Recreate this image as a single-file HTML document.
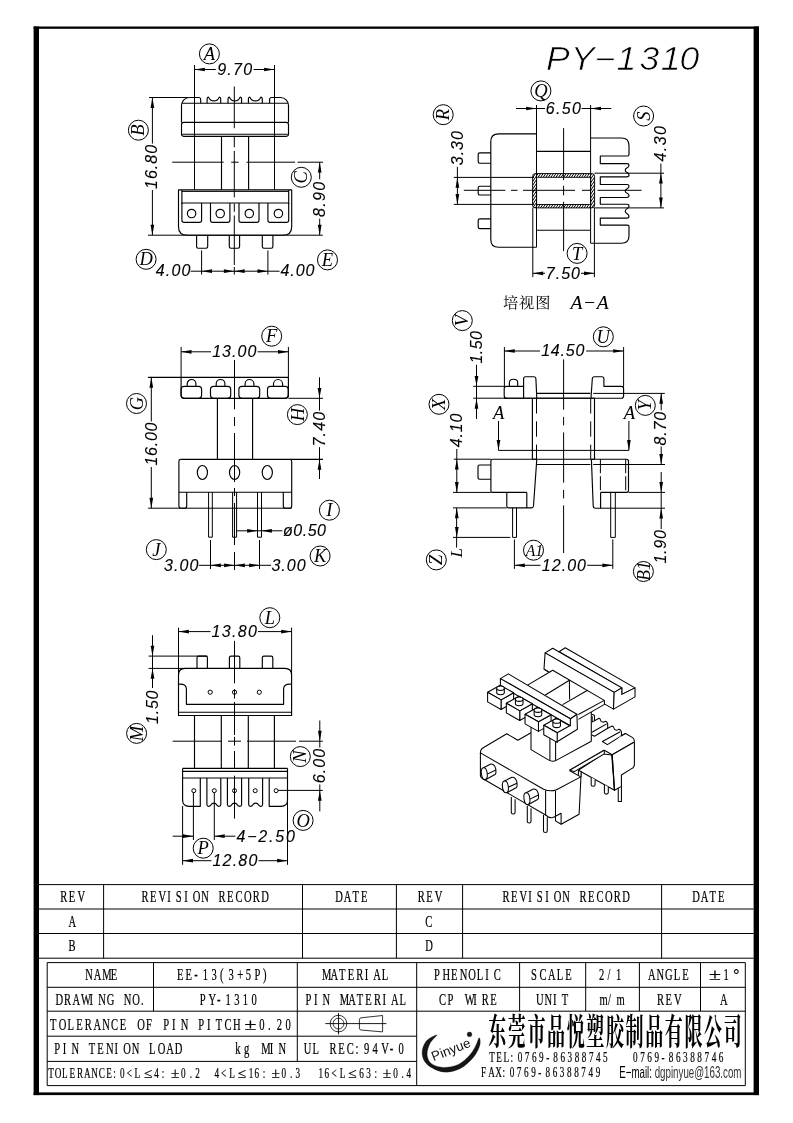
<!DOCTYPE html>
<html lang="zh"><head><meta charset="utf-8"><title>PY-1310</title>
<style>
html,body{margin:0;padding:0;background:#fff;}
body{width:793px;height:1123px;overflow:hidden;}
svg{display:block;will-change:transform;}
text{stroke:none;fill:#000;}
.dim{font-family:"Liberation Sans",sans-serif;font-style:italic;stroke:#000;stroke-width:0.12px;}
.ttl{font-family:"Liberation Sans",sans-serif;font-style:italic;stroke:#fff;stroke-width:0.7px;paint-order:fill stroke;}
.lab{font-family:"Liberation Serif",serif;font-style:italic;}
.tbl{font-family:"Liberation Serif","Noto Serif CJK SC",serif;stroke:#000;stroke-width:0.22px;}
.cn{font-family:"Liberation Serif","Noto Serif CJK SC",serif;font-weight:700;}
.kai{font-family:"Liberation Serif","Noto Serif CJK SC",serif;}
.em{font-family:"Liberation Sans",sans-serif;fill:#333;}
.logo{font-family:"Liberation Sans",sans-serif;fill:#111;}
</style></head><body>
<svg width="793" height="1123" viewBox="0 0 793 1123">
<rect x="0" y="0" width="793" height="1123" fill="#fff" stroke="none"/>
<g stroke="#000" fill="none" stroke-linecap="butt" stroke-linejoin="round">
<rect x="33.6" y="26.5" width="5.4" height="1068.6" fill="#000" stroke="none"/>
<rect x="753.6" y="26.5" width="5.4" height="1068.6" fill="#000" stroke="none"/>
<rect x="33.6" y="26.5" width="725.4" height="2.3" fill="#000" stroke="none"/>
<rect x="33.6" y="1092.4" width="725.4" height="2.7" fill="#000" stroke="none"/>
<text class="ttl" font-size="32.4" transform="translate(0 69.9) scale(1.1 1)" x="496.36 518.91 540.55 560.55 581.27 600.73 617.82" y="0">PY−1310</text>
<line x1="39" y1="884.6" x2="753.6" y2="884.6" stroke-width="1"/>
<line x1="39" y1="909" x2="753.6" y2="909" stroke-width="1"/>
<line x1="39" y1="933.5" x2="753.6" y2="933.5" stroke-width="1"/>
<line x1="39" y1="958.2" x2="753.6" y2="958.2" stroke-width="1"/>
<line x1="103.6" y1="884.6" x2="103.6" y2="958.2" stroke-width="1"/>
<line x1="302.5" y1="884.6" x2="302.5" y2="958.2" stroke-width="1"/>
<line x1="396.4" y1="884.6" x2="396.4" y2="958.2" stroke-width="1"/>
<line x1="462.6" y1="884.6" x2="462.6" y2="958.2" stroke-width="1"/>
<line x1="661.6" y1="884.6" x2="661.6" y2="958.2" stroke-width="1"/>
<line x1="47.2" y1="962.6" x2="745.3" y2="962.6" stroke-width="1"/>
<line x1="47.2" y1="1085.6" x2="745.3" y2="1085.6" stroke-width="1"/>
<line x1="47.2" y1="962.6" x2="47.2" y2="1085.6" stroke-width="1"/>
<line x1="745.3" y1="962.6" x2="745.3" y2="1085.6" stroke-width="1"/>
<line x1="47.2" y1="987.3" x2="745.3" y2="987.3" stroke-width="1"/>
<line x1="47.2" y1="1011.2" x2="745.3" y2="1011.2" stroke-width="1"/>
<line x1="47.2" y1="1036.2" x2="416.7" y2="1036.2" stroke-width="1"/>
<line x1="47.2" y1="1061.4" x2="416.7" y2="1061.4" stroke-width="1"/>
<line x1="153.5" y1="962.6" x2="153.5" y2="1011.2" stroke-width="1"/>
<line x1="297.3" y1="962.6" x2="297.3" y2="1061.4" stroke-width="1"/>
<line x1="416.7" y1="962.6" x2="416.7" y2="1085.6" stroke-width="1"/>
<line x1="519.6" y1="962.6" x2="519.6" y2="1011.2" stroke-width="1"/>
<line x1="585.7" y1="962.6" x2="585.7" y2="1011.2" stroke-width="1"/>
<line x1="639.4" y1="962.6" x2="639.4" y2="1011.2" stroke-width="1"/>
<line x1="700.5" y1="962.6" x2="700.5" y2="1011.2" stroke-width="1"/>
<text class="tbl" font-size="16" transform="translate(60.3 902.2) scale(0.66 1)" x="0 12.95 25.91" y="0">REV</text>
<text class="tbl" font-size="16" transform="translate(141.5 902.2) scale(0.66 1)" x="0 12.95 25.91 38.86 51.82 64.77 77.73 90.68 103.64 116.59 129.55 142.5 155.45 168.41 181.36" y="0">REVISION RECORD</text>
<text class="tbl" font-size="16" transform="translate(335.3 902.2) scale(0.66 1)" x="0 12.95 25.91 38.86" y="0">DATE</text>
<text class="tbl" font-size="16" transform="translate(417.7 902.2) scale(0.66 1)" x="0 12.95 25.91" y="0">REV</text>
<text class="tbl" font-size="16" transform="translate(502.5 901.6) scale(0.66 1)" x="0 12.95 25.91 38.86 51.82 64.77 77.73 90.68 103.64 116.59 129.55 142.5 155.45 168.41 181.36" y="0">REVISION RECORD</text>
<text class="tbl" font-size="16" transform="translate(692.3 902.2) scale(0.66 1)" x="0 12.95 25.91 38.86" y="0">DATE</text>
<text class="tbl" font-size="16" transform="translate(68.5 926.6) scale(0.66 1)" x="0" y="0">A</text>
<text class="tbl" font-size="16" transform="translate(68.5 951.3) scale(0.66 1)" x="0" y="0">B</text>
<text class="tbl" font-size="16" transform="translate(425.3 926.6) scale(0.66 1)" x="0" y="0">C</text>
<text class="tbl" font-size="16" transform="translate(425.3 951.3) scale(0.66 1)" x="0" y="0">D</text>
<text class="tbl" font-size="16" transform="translate(85.2 980.3) scale(0.66 1)" x="0 12.95 25.91 38.86" y="0">NAME</text>
<text class="tbl" font-size="16" transform="translate(177 980.3) scale(0.66 1)" x="0 13.03 26.06 39.09 52.12 65.15 78.18 91.21 104.24 117.27 130.3" y="0">EE-13(3+5P)</text>
<text class="tbl" font-size="16" transform="translate(55.4 1004.8) scale(0.66 1)" x="0 12.95 25.91 38.86 51.82 64.77 77.73 90.68 103.64 116.59 129.55" y="0">DRAWING NO.</text>
<text class="tbl" font-size="16" transform="translate(199.8 1004.8) scale(0.66 1)" x="0 13.03 26.06 39.09 52.12 65.15 78.18" y="0">PY-1310</text>
<text class="tbl" font-size="16" transform="translate(322 980.3) scale(0.66 1)" x="0 12.95 25.91 38.86 51.82 64.77 77.73 90.68" y="0">MATERIAL</text>
<text class="tbl" font-size="16" transform="translate(305.5 1004.8) scale(0.66 1)" x="0 12.95 25.91 38.86 51.82 64.77 77.73 90.68 103.64 116.59 129.55 142.5" y="0">PIN MATERIAL</text>
<text class="tbl" font-size="16" transform="translate(434 980.3) scale(0.66 1)" x="0 12.95 25.91 38.86 51.82 64.77 77.73 90.68" y="0">PHENOLIC</text>
<text class="tbl" font-size="16" transform="translate(439 1004.8) scale(0.66 1)" x="0 12.95 25.91 38.86 51.82 64.77 77.73" y="0">CP WIRE</text>
<text class="tbl" font-size="16" transform="translate(531 980.3) scale(0.66 1)" x="0 12.95 25.91 38.86 51.82" y="0">SCALE</text>
<text class="tbl" font-size="16" transform="translate(536 1004.8) scale(0.66 1)" x="0 12.95 25.91 38.86" y="0">UNIT</text>
<text class="tbl" font-size="16" transform="translate(599 980.3) scale(0.66 1)" x="0 12.95 25.91" y="0">2/1</text>
<text class="tbl" font-size="16" transform="translate(599.5 1004.8) scale(0.66 1)" x="0 12.95 25.91" y="0">m/m</text>
<text class="tbl" font-size="16" transform="translate(648 980.3) scale(0.66 1)" x="0 12.95 25.91 38.86 51.82" y="0">ANGLE</text>
<text class="tbl" font-size="16" transform="translate(657 1004.8) scale(0.66 1)" x="0 12.95 25.91" y="0">REV</text>
<text class="tbl" font-size="16" transform="translate(708.88 980.3) scale(1.36 1)" x="0" y="0">±</text>
<text class="tbl" font-size="16" transform="translate(723.4 980.3) scale(0.66 1)" x="0" y="0">1</text>
<text class="tbl" font-size="16" transform="translate(733.18 980.3) scale(0.95 1)" x="0" y="0">°</text>
<text class="tbl" font-size="16" transform="translate(720 1004.8) scale(0.66 1)" x="0" y="0">A</text>
<text class="tbl" font-size="16" transform="translate(50 1029.9) scale(0.66 1)" x="0 13.21 26.42 39.64 52.85 66.06 79.27 92.48 105.7 118.91 132.12 145.33 158.55 171.76 184.97 198.18 211.39 224.61 237.82 251.03 264.24 277.45" y="0">TOLERANCE OF PIN PITCH</text>
<text class="tbl" font-size="16" transform="translate(244.59 1029.9) scale(1.36 1)" x="0" y="0">±</text>
<text class="tbl" font-size="16" transform="translate(259.28 1029.9) scale(0.66 1)" x="0 13.21 26.42 39.64" y="0">0.20</text>
<text class="tbl" font-size="16" transform="translate(54.2 1053.9) scale(0.66 1)" x="0 13.06 26.12 39.18 52.24 65.3 78.36 91.42 104.48 117.55 130.61 143.67 156.73 169.79 182.85" y="0">PIN TENION LOAD</text>
<text class="tbl" font-size="16" transform="translate(235.3 1053.9) scale(0.66 1)" x="0 13.06 26.12 39.18 52.24 65.3" y="0">kg MIN</text>
<text class="tbl" font-size="16" transform="translate(303.8 1053.9) scale(0.66 1)" x="0 13.03 26.06 39.09 52.12 65.15 78.18 91.21 104.24 117.27 130.3 143.33" y="0">UL REC:94V-0</text>
<text class="tbl" font-size="13.9" transform="translate(48.3 1077.9) scale(0.66 1)" x="0 9.85 20.76 32.27 43.64 54.09 65 76.36 87.88 98.48 108.64 118.79 130.76" y="0">TOLERANCE:0&lt;L</text>
<text class="tbl" font-size="13.9" transform="translate(144.1 1077.9) scale(1.1 1)" x="0" y="0">≤</text>
<text class="tbl" font-size="13.9" transform="translate(154.3 1077.9) scale(0.66 1)" x="0 11.21" y="0">4:</text>
<text class="tbl" font-size="13.9" transform="translate(170.9 1077.9) scale(1.1 1)" x="0" y="0">±</text>
<text class="tbl" font-size="13.9" transform="translate(181 1077.9) scale(0.66 1)" x="0 13.33 21.67" y="0">0.2</text>
<text class="tbl" font-size="13.9" transform="translate(214.4 1077.9) scale(0.66 1)" x="0 9.85 22.42" y="0">4&lt;L</text>
<text class="tbl" font-size="13.9" transform="translate(237.7 1077.9) scale(1.1 1)" x="0" y="0">≤</text>
<text class="tbl" font-size="13.9" transform="translate(248.8 1077.9) scale(0.66 1)" x="0 8.64 21.06" y="0">16:</text>
<text class="tbl" font-size="13.9" transform="translate(271.6 1077.9) scale(1.1 1)" x="0" y="0">±</text>
<text class="tbl" font-size="13.9" transform="translate(281.6 1077.9) scale(0.66 1)" x="0 12.73 21.21" y="0">0.3</text>
<text class="tbl" font-size="13.9" transform="translate(318.6 1077.9) scale(0.66 1)" x="0 8.79 19.55 32.12" y="0">16&lt;L</text>
<text class="tbl" font-size="13.9" transform="translate(348.3 1077.9) scale(1.1 1)" x="0" y="0">≤</text>
<text class="tbl" font-size="13.9" transform="translate(359.2 1077.9) scale(0.66 1)" x="0 10.76 23.18" y="0">63:</text>
<text class="tbl" font-size="13.9" transform="translate(382.7 1077.9) scale(1.1 1)" x="0" y="0">±</text>
<text class="tbl" font-size="13.9" transform="translate(393.3 1077.9) scale(0.66 1)" x="0 12.42 20" y="0">0.4</text>
<circle cx="338.5" cy="1023.6" r="8.3" stroke-width="0.8" fill="none"/>
<circle cx="338.5" cy="1023.6" r="5.4" stroke-width="0.8" fill="none"/>
<line x1="325.3" y1="1023.6" x2="386.4" y2="1023.6" stroke-width="0.9"/>
<line x1="338.5" y1="1013" x2="338.5" y2="1034.4" stroke-width="0.9"/>
<path d="M382.6,1015.5 L361,1017.8 Q359.4,1018 359.4,1019.6 L359.4,1028.2 Q359.4,1029.8 361,1030 L382.6,1031.9 Z" stroke-width="0.8" fill="none" />
<text class="cn" font-size="30" transform="translate(488.2 1044.6) scale(0.6 1.22)" x="0 32.7 65.4 98.1 130.8 163.5 196.2 228.9 261.6 294.3 327 359.7 392.4" y="0">东莞市品悦塑胶制品有限公司</text>
<text class="tbl" font-size="13.9" transform="translate(489.2 1061.5) scale(0.66 1)" x="0 10.79 21.58 32.36 43.15 53.94 64.73 75.52 86.3 97.09 107.88 118.67 129.45 140.24 151.03 161.82 172.61" y="0">TEL:0769-86388745</text>
<text class="tbl" font-size="13.9" transform="translate(633 1061.5) scale(0.66 1)" x="0 10.83 21.67 32.5 43.33 54.17 65 75.83 86.67 97.5 108.33 119.17 130" y="0">0769-86388746</text>
<text class="tbl" font-size="13.9" transform="translate(481 1077.4) scale(0.66 1)" x="0 10.86 21.73 32.59 43.45 54.32 65.18 76.05 86.91 97.77 108.64 119.5 130.36 141.23 152.09 162.95 173.82" y="0">FAX:0769-86388749</text>
<text class="em" x="619.2" y="1077.9" font-size="16.6" textLength="122.3" lengthAdjust="spacingAndGlyphs"><tspan fill="#000">E−mail:</tspan> dgpinyue@163.com</text>
<path d="M436.9,1034.9 C436.23,1034.57 428.57,1038.13 426.1,1041.2 C423.63,1044.27 421.93,1049.43 422.1,1053.3 C422.27,1057.17 423.58,1061.28 427.1,1064.4 C430.62,1067.52 437.65,1071.33 443.2,1072 C448.75,1072.67 455.35,1070.85 460.4,1068.4 C465.45,1065.95 470.27,1061.17 473.5,1057.3 C476.73,1053.43 478.85,1048.45 479.8,1045.2 C480.75,1041.95 479.92,1037.63 479.2,1037.8 C478.48,1037.97 477.12,1043.28 475.5,1046.2 C473.88,1049.12 472.35,1052.27 469.5,1055.3 C466.65,1058.33 462.78,1062.38 458.4,1064.4 C454.02,1066.42 447.75,1067.57 443.2,1067.4 C438.65,1067.23 433.78,1065.58 431.1,1063.4 C428.42,1061.22 427.27,1057.67 427.1,1054.3 C426.93,1050.93 428.47,1046.43 430.1,1043.2 C431.73,1039.97 437.57,1035.23 436.9,1034.9 Z" stroke-width="0.3" fill="#151515" />
<circle cx="469.5" cy="1034.4" r="2.4" stroke-width="0.3" fill="#151515"/>
<text class="logo" x="0" y="0" font-size="13.4" transform="translate(433.6 1061.3) rotate(-21.5)">Pinyue</text>
<line x1="194.5" y1="65" x2="194.5" y2="190" stroke-width="1"/>
<line x1="274.5" y1="65" x2="274.5" y2="190" stroke-width="1"/>
<line x1="194.5" y1="69.5" x2="215.8" y2="69.5" stroke-width="1"/>
<line x1="253.6" y1="69.5" x2="274.5" y2="69.5" stroke-width="1"/>
<polygon points="194.5,69.5 204.9,67.65 204.9,71.35" fill="#000" stroke="none"/>
<polygon points="274.5,69.5 264.1,67.65 264.1,71.35" fill="#000" stroke="none"/>
<text class="dim" x="0" y="0" font-size="16" text-anchor="start" textLength="35" lengthAdjust="spacing" transform="translate(217.2 74.7) scale(1 1)">9.70</text>
<circle cx="209.4" cy="53.9" r="10" stroke-width="1" fill="none"/>
<text class="lab" x="209.4" y="60" font-size="18.5" text-anchor="middle" transform="rotate(0 209.4 53.9)">A</text>
<line x1="234.3" y1="86.5" x2="234.3" y2="128.2" stroke-width="1"/>
<line x1="234.3" y1="137" x2="234.3" y2="147.3" stroke-width="1"/>
<line x1="234.3" y1="151" x2="234.3" y2="197.4" stroke-width="1"/>
<line x1="234.3" y1="203.4" x2="234.3" y2="211.8" stroke-width="1"/>
<line x1="234.3" y1="215.5" x2="234.3" y2="265" stroke-width="1"/>
<line x1="234.3" y1="267" x2="234.3" y2="274.6" stroke-width="1"/>
<path d="M181.5,122.4 L181.5,105.5 A8,8 0 0 1 189.5,97.5 L198.7,97.5 Q200.7,97.5 200.7,99.5 L200.7,103.2" stroke-width="1.15" fill="none" />
<path d="M269.6,103.2 L269.6,99.5 Q269.6,97.5 271.6,97.5 L280.5,97.5 A8,8 0 0 1 288.5,105.5 L288.5,122.4" stroke-width="1.15" fill="none" />
<line x1="181.8" y1="103.2" x2="288.2" y2="103.2" stroke-width="1.15"/>
<path d="M207.1,103.2 L207.1,98.8 Q207.3,97.1 208.6,97.1 C210.3,102.2 217.5,102.2 219.2,97.1 Q220.5,97.1 220.7,98.8 L220.7,103.2" stroke-width="1.15" fill="none" />
<path d="M228,103.2 L228,98.8 Q228.2,97.1 229.5,97.1 C231.2,102.2 238.4,102.2 240.1,97.1 Q241.4,97.1 241.6,98.8 L241.6,103.2" stroke-width="1.15" fill="none" />
<path d="M248.4,103.2 L248.4,98.8 Q248.6,97.1 249.9,97.1 C251.6,102.2 259.1,102.2 260.8,97.1 Q262.1,97.1 262.3,98.8 L262.3,103.2" stroke-width="1.15" fill="none" />
<rect x="181.5" y="122.4" width="107" height="13.9" rx="2.2" stroke-width="1.15" fill="none"/>
<line x1="182.3" y1="134.2" x2="287.7" y2="134.2" stroke-width="1.15"/>
<line x1="221.5" y1="136.3" x2="221.5" y2="190" stroke-width="1.15"/>
<line x1="248.6" y1="136.3" x2="248.6" y2="190" stroke-width="1.15"/>
<line x1="172.2" y1="162.2" x2="223.7" y2="162.2" stroke-width="1"/>
<line x1="231.2" y1="162.2" x2="238.6" y2="162.2" stroke-width="1"/>
<line x1="246.5" y1="162.2" x2="295" y2="162.2" stroke-width="1"/>
<line x1="297.5" y1="162.2" x2="323" y2="162.2" stroke-width="1"/>
<path d="M178.5,189.9 L291.7,189.9 L291.7,226.4 Q291.7,235.2 282.9,235.2 L187.3,235.2 Q178.5,235.2 178.5,226.4 Z" stroke-width="1.15" fill="none" />
<line x1="181.9" y1="203" x2="288.7" y2="203" stroke-width="1.15"/>
<line x1="181.9" y1="191.4" x2="288.7" y2="191.4" stroke-width="1"/>
<line x1="181.9" y1="189.9" x2="181.9" y2="204" stroke-width="1.15"/>
<line x1="288.7" y1="189.9" x2="288.7" y2="204" stroke-width="1.15"/>
<path d="M181.9,203 L181.9,220.2 Q181.9,222.4 184.1,222.4 L199.4,222.4 Q201.6,222.4 201.6,220.2 L201.6,203" stroke-width="1.15" fill="none" />
<path d="M210.5,203 L210.5,220.2 Q210.5,222.4 212.7,222.4 L227.7,222.4 Q229.9,222.4 229.9,220.2 L229.9,203" stroke-width="1.15" fill="none" />
<path d="M239,203 L239,220.2 Q239,222.4 241.2,222.4 L256.8,222.4 Q259,222.4 259,220.2 L259,203" stroke-width="1.15" fill="none" />
<path d="M267.9,203 L267.9,220.2 Q267.9,222.4 270.1,222.4 L286.5,222.4 Q288.7,222.4 288.7,220.2 L288.7,203" stroke-width="1.15" fill="none" />
<circle cx="191.6" cy="213.5" r="4.2" stroke-width="1.15" fill="none"/>
<circle cx="220.2" cy="213.5" r="4.2" stroke-width="1.15" fill="none"/>
<circle cx="249.3" cy="213.5" r="4.2" stroke-width="1.15" fill="none"/>
<circle cx="278.4" cy="213.5" r="4.2" stroke-width="1.15" fill="none"/>
<path d="M196.6,235.2 L196.6,246.6 Q196.6,248.2 198.2,248.2 L206.1,248.2 Q207.7,248.2 207.7,246.6 L207.7,235.2" stroke-width="1.15" fill="none" />
<path d="M229.3,235.2 L229.3,246.6 Q229.3,248.2 230.9,248.2 L238,248.2 Q239.6,248.2 239.6,246.6 L239.6,235.2" stroke-width="1.15" fill="none" />
<path d="M262.3,235.2 L262.3,246.6 Q262.3,248.2 263.9,248.2 L271.3,248.2 Q272.9,248.2 272.9,246.6 L272.9,235.2" stroke-width="1.15" fill="none" />
<line x1="149" y1="97.5" x2="188" y2="97.5" stroke-width="1"/>
<line x1="148" y1="235.2" x2="322.8" y2="235.2" stroke-width="1"/>
<line x1="152.4" y1="97.5" x2="152.4" y2="143.6" stroke-width="1"/>
<line x1="152.4" y1="190" x2="152.4" y2="235.2" stroke-width="1"/>
<polygon points="152.4,97.5 150.55,107.9 154.25,107.9" fill="#000" stroke="none"/>
<polygon points="152.4,235.2 150.55,224.8 154.25,224.8" fill="#000" stroke="none"/>
<text class="dim" x="0" y="0" font-size="16" text-anchor="start" textLength="44" lengthAdjust="spacing" transform="translate(157.4 188.9) rotate(-90) scale(1 1)">16.80</text>
<circle cx="138.4" cy="130.2" r="10" stroke-width="1" fill="none"/>
<text class="lab" x="138.4" y="136.3" font-size="18.5" text-anchor="middle" transform="rotate(-90 138.4 130.2)">B</text>
<line x1="319.7" y1="162.2" x2="319.7" y2="179.3" stroke-width="1"/>
<line x1="319.7" y1="218.6" x2="319.7" y2="235.2" stroke-width="1"/>
<polygon points="319.7,162.2 317.85,172.6 321.55,172.6" fill="#000" stroke="none"/>
<polygon points="319.7,235.2 317.85,224.8 321.55,224.8" fill="#000" stroke="none"/>
<text class="dim" x="0" y="0" font-size="16" text-anchor="start" textLength="35" lengthAdjust="spacing" transform="translate(324.9 216.9) rotate(-90) scale(1 1)">8.90</text>
<circle cx="301.3" cy="177.3" r="10" stroke-width="1" fill="none"/>
<text class="lab" x="301.3" y="183.41" font-size="18.5" text-anchor="middle" transform="rotate(-90 301.3 177.3)">C</text>
<line x1="201.6" y1="250.4" x2="201.6" y2="274.6" stroke-width="1"/>
<line x1="267.9" y1="250.4" x2="267.9" y2="274.6" stroke-width="1"/>
<line x1="190.6" y1="271.2" x2="279.6" y2="271.2" stroke-width="1"/>
<polygon points="201.6,271.2 212,269.35 212,273.05" fill="#000" stroke="none"/>
<polygon points="234.3,271.2 223.9,269.35 223.9,273.05" fill="#000" stroke="none"/>
<polygon points="234.3,271.2 244.7,269.35 244.7,273.05" fill="#000" stroke="none"/>
<polygon points="267.9,271.2 257.5,269.35 257.5,273.05" fill="#000" stroke="none"/>
<text class="dim" x="0" y="0" font-size="16" text-anchor="start" textLength="34.5" lengthAdjust="spacing" transform="translate(155.8 276.4) scale(1 1)">4.00</text>
<text class="dim" x="0" y="0" font-size="16" text-anchor="start" textLength="34" lengthAdjust="spacing" transform="translate(280.4 276.4) scale(1 1)">4.00</text>
<circle cx="146.1" cy="259.3" r="10" stroke-width="1" fill="none"/>
<text class="lab" x="146.1" y="265.41" font-size="18.5" text-anchor="middle" transform="rotate(0 146.1 259.3)">D</text>
<circle cx="327.5" cy="259.9" r="10" stroke-width="1" fill="none"/>
<text class="lab" x="327.5" y="266" font-size="18.5" text-anchor="middle" transform="rotate(0 327.5 259.9)">E</text>
<line x1="536.5" y1="105" x2="536.5" y2="247.2" stroke-width="1"/>
<line x1="590.6" y1="105" x2="590.6" y2="243.2" stroke-width="1"/>
<line x1="516" y1="108.5" x2="536.5" y2="108.5" stroke-width="1"/>
<line x1="536.5" y1="108.5" x2="545" y2="108.5" stroke-width="1"/>
<line x1="581.6" y1="108.5" x2="590.6" y2="108.5" stroke-width="1"/>
<line x1="590.6" y1="108.5" x2="611.3" y2="108.5" stroke-width="1"/>
<polygon points="536.5,108.5 526.1,106.65 526.1,110.35" fill="#000" stroke="none"/>
<polygon points="590.6,108.5 601,106.65 601,110.35" fill="#000" stroke="none"/>
<text class="dim" x="0" y="0" font-size="16" text-anchor="start" textLength="35" lengthAdjust="spacing" transform="translate(545.8 113.8) scale(1 1)">6.50</text>
<circle cx="540.9" cy="90.9" r="10" stroke-width="1" fill="none"/>
<text class="lab" x="540.9" y="97.01" font-size="18.5" text-anchor="middle" transform="rotate(0 540.9 90.9)">Q</text>
<path d="M536.5,133.8 L498.6,133.8 Q490.8,133.8 490.8,141.6 L490.8,239.4 Q490.8,247.2 498.6,247.2 L536.5,247.2" stroke-width="1.15" fill="none" />
<path d="M490.8,152.8 L479.8,152.8 Q478.2,152.8 478.2,154.4 L478.2,161.6 Q478.2,163.2 479.8,163.2 L490.8,163.2" stroke-width="1.15" fill="none" />
<path d="M490.8,186.2 L479.8,186.2 Q478.2,186.2 478.2,187.8 L478.2,193.4 Q478.2,195 479.8,195 L490.8,195" stroke-width="1.15" fill="none" />
<path d="M490.8,218.9 L479.8,218.9 Q478.2,218.9 478.2,220.5 L478.2,227 Q478.2,228.6 479.8,228.6 L490.8,228.6" stroke-width="1.15" fill="none" />
<line x1="536.5" y1="151.3" x2="590.6" y2="151.3" stroke-width="1.15"/>
<line x1="536.5" y1="230.2" x2="590.6" y2="230.2" stroke-width="1.15"/>
<line x1="532.8" y1="207.5" x2="532.8" y2="277.2" stroke-width="1"/>
<line x1="594.4" y1="207.5" x2="594.4" y2="277.2" stroke-width="1"/>
<line x1="563.6" y1="128.1" x2="563.6" y2="180.1" stroke-width="1"/>
<line x1="563.6" y1="185.7" x2="563.6" y2="195.3" stroke-width="1"/>
<line x1="563.6" y1="201.8" x2="563.6" y2="251.1" stroke-width="1"/>
<line x1="463.8" y1="190.3" x2="505.4" y2="190.3" stroke-width="1"/>
<line x1="511" y1="190.3" x2="517.5" y2="190.3" stroke-width="1"/>
<line x1="523" y1="190.3" x2="575" y2="190.3" stroke-width="1"/>
<line x1="582" y1="190.3" x2="591.1" y2="190.3" stroke-width="1"/>
<line x1="597.6" y1="190.3" x2="641.6" y2="190.3" stroke-width="1"/>
<defs><clipPath id="hc"><path d="M535.4,173.6 L591.8,173.6 Q594.6,173.6 594.6,176.4 L594.6,205.1 Q594.6,207.9 591.8,207.9 L535.4,207.9 Q532.6,207.9 532.6,205.1 L532.6,176.4 Q532.6,173.6 535.4,173.6 Z M537.6,177.3 Q536.6,177.3 536.6,178.3 L536.6,203.5 Q536.6,204.5 537.6,204.5 L589.6,204.5 Q590.6,204.5 590.6,203.5 L590.6,178.3 Q590.6,177.3 589.6,177.3 Z" clip-rule="evenodd"/></clipPath></defs>
<g clip-path="url(#hc)" stroke-width="1.0">
<line x1="500" y1="211" x2="526.98" y2="171" stroke-width="1"/>
<line x1="502.56" y1="211" x2="529.54" y2="171" stroke-width="1"/>
<line x1="505.12" y1="211" x2="532.1" y2="171" stroke-width="1"/>
<line x1="507.68" y1="211" x2="534.66" y2="171" stroke-width="1"/>
<line x1="510.24" y1="211" x2="537.22" y2="171" stroke-width="1"/>
<line x1="512.8" y1="211" x2="539.78" y2="171" stroke-width="1"/>
<line x1="515.36" y1="211" x2="542.34" y2="171" stroke-width="1"/>
<line x1="517.92" y1="211" x2="544.9" y2="171" stroke-width="1"/>
<line x1="520.48" y1="211" x2="547.46" y2="171" stroke-width="1"/>
<line x1="523.04" y1="211" x2="550.02" y2="171" stroke-width="1"/>
<line x1="525.6" y1="211" x2="552.58" y2="171" stroke-width="1"/>
<line x1="528.16" y1="211" x2="555.14" y2="171" stroke-width="1"/>
<line x1="530.72" y1="211" x2="557.7" y2="171" stroke-width="1"/>
<line x1="533.28" y1="211" x2="560.26" y2="171" stroke-width="1"/>
<line x1="535.84" y1="211" x2="562.82" y2="171" stroke-width="1"/>
<line x1="538.4" y1="211" x2="565.38" y2="171" stroke-width="1"/>
<line x1="540.96" y1="211" x2="567.94" y2="171" stroke-width="1"/>
<line x1="543.52" y1="211" x2="570.5" y2="171" stroke-width="1"/>
<line x1="546.08" y1="211" x2="573.06" y2="171" stroke-width="1"/>
<line x1="548.64" y1="211" x2="575.62" y2="171" stroke-width="1"/>
<line x1="551.2" y1="211" x2="578.18" y2="171" stroke-width="1"/>
<line x1="553.76" y1="211" x2="580.74" y2="171" stroke-width="1"/>
<line x1="556.32" y1="211" x2="583.3" y2="171" stroke-width="1"/>
<line x1="558.88" y1="211" x2="585.86" y2="171" stroke-width="1"/>
<line x1="561.44" y1="211" x2="588.42" y2="171" stroke-width="1"/>
<line x1="564" y1="211" x2="590.98" y2="171" stroke-width="1"/>
<line x1="566.56" y1="211" x2="593.54" y2="171" stroke-width="1"/>
<line x1="569.12" y1="211" x2="596.1" y2="171" stroke-width="1"/>
<line x1="571.68" y1="211" x2="598.66" y2="171" stroke-width="1"/>
<line x1="574.24" y1="211" x2="601.22" y2="171" stroke-width="1"/>
<line x1="576.8" y1="211" x2="603.78" y2="171" stroke-width="1"/>
<line x1="579.36" y1="211" x2="606.34" y2="171" stroke-width="1"/>
<line x1="581.92" y1="211" x2="608.9" y2="171" stroke-width="1"/>
<line x1="584.48" y1="211" x2="611.46" y2="171" stroke-width="1"/>
<line x1="587.04" y1="211" x2="614.02" y2="171" stroke-width="1"/>
<line x1="589.6" y1="211" x2="616.58" y2="171" stroke-width="1"/>
<line x1="592.16" y1="211" x2="619.14" y2="171" stroke-width="1"/>
<line x1="594.72" y1="211" x2="621.7" y2="171" stroke-width="1"/>
<line x1="597.28" y1="211" x2="624.26" y2="171" stroke-width="1"/>
<line x1="599.84" y1="211" x2="626.82" y2="171" stroke-width="1"/>
</g>
<path d="M535.4,173.6 L591.8,173.6 Q594.6,173.6 594.6,176.4 L594.6,205.1 Q594.6,207.9 591.8,207.9 L535.4,207.9 Q532.6,207.9 532.6,205.1 L532.6,176.4 Q532.6,173.6 535.4,173.6 Z M537.6,177.3 Q536.6,177.3 536.6,178.3 L536.6,203.5 Q536.6,204.5 537.6,204.5 L589.6,204.5 Q590.6,204.5 590.6,203.5 L590.6,178.3 Q590.6,177.3 589.6,177.3 Z" fill="none" fill-rule="evenodd" stroke-width="0.95"/>
<path d="M590.6,138 L621.5,138 Q629,138 629,145.5 L629,154.5 Q629,156 627.5,156 L600.3,156 L600.3,163.65 L626.8,163.65 Q629,163.65 629,165.55 C629,168.05 625.2,167.63 625.2,170.23 C625.2,172.83 629,172.4 629,174.9 Q629,176.8 626.8,176.8 L600.3,176.8 L600.3,184.5 L626.8,184.5 Q629,184.5 629,186.4 C629,188.9 625.2,188.4 625.2,191 C625.2,193.6 629,193.1 629,195.6 Q629,197.5 626.8,197.5 L600.3,197.5 L600.3,204.25 L626.8,204.25 Q629,204.25 629,206.15 C629,208.65 625.2,208.58 625.2,211.18 C625.2,213.78 629,213.7 629,216.2 Q629,218.1 626.8,218.1 L600.3,218.1 L600.3,225.1 L627.5,225.1 Q629,225.1 629,226.6 L629,235.7 Q629,243.2 621.5,243.2 L590.6,243.2" stroke-width="1.15" fill="none" />
<line x1="453.8" y1="177.4" x2="534" y2="177.4" stroke-width="1"/>
<line x1="453.8" y1="204.4" x2="534" y2="204.4" stroke-width="1"/>
<line x1="457.4" y1="166.8" x2="457.4" y2="204.4" stroke-width="1"/>
<polygon points="457.4,177.4 455.55,187.8 459.25,187.8" fill="#000" stroke="none"/>
<polygon points="457.4,204.4 455.55,194 459.25,194" fill="#000" stroke="none"/>
<text class="dim" x="0" y="0" font-size="16" text-anchor="start" textLength="34" lengthAdjust="spacing" transform="translate(462.6 165.2) rotate(-90) scale(1 1)">3.30</text>
<circle cx="443.2" cy="114.7" r="10" stroke-width="1" fill="none"/>
<text class="lab" x="443.2" y="120.81" font-size="18.5" text-anchor="middle" transform="rotate(-90 443.2 114.7)">R</text>
<line x1="594.5" y1="173.2" x2="664" y2="173.2" stroke-width="1"/>
<line x1="594.5" y1="207.9" x2="664" y2="207.9" stroke-width="1"/>
<line x1="660.9" y1="163.5" x2="660.9" y2="207.9" stroke-width="1"/>
<polygon points="660.9,173.2 659.05,183.6 662.75,183.6" fill="#000" stroke="none"/>
<polygon points="660.9,207.9 659.05,197.5 662.75,197.5" fill="#000" stroke="none"/>
<text class="dim" x="0" y="0" font-size="16" text-anchor="start" textLength="35.5" lengthAdjust="spacing" transform="translate(666.2 161.6) rotate(-90) scale(1 1)">4.30</text>
<circle cx="643.6" cy="116" r="10" stroke-width="1" fill="none"/>
<text class="lab" x="643.6" y="122.11" font-size="18.5" text-anchor="middle" transform="rotate(-90 643.6 116)">S</text>
<line x1="532.8" y1="273.3" x2="545" y2="273.3" stroke-width="1"/>
<line x1="581" y1="273.3" x2="594.4" y2="273.3" stroke-width="1"/>
<polygon points="532.8,273.3 543.2,271.45 543.2,275.15" fill="#000" stroke="none"/>
<polygon points="594.4,273.3 584,271.45 584,275.15" fill="#000" stroke="none"/>
<text class="dim" x="0" y="0" font-size="16" text-anchor="start" textLength="34.2" lengthAdjust="spacing" transform="translate(545.8 278.7) scale(1 1)">7.50</text>
<circle cx="577.1" cy="253.4" r="10" stroke-width="1" fill="none"/>
<text class="lab" x="577.1" y="259.5" font-size="18.5" text-anchor="middle" transform="rotate(0 577.1 253.4)">T</text>
<text class="kai" x="503.0" y="308.2" font-size="15.2" textLength="47.4" lengthAdjust="spacing">培视图</text>
<text class="lab" x="570.6" y="309.3" font-size="19.6" textLength="38.2" lengthAdjust="spacing">A−A</text>
<line x1="181.1" y1="346.9" x2="181.1" y2="377.3" stroke-width="1"/>
<line x1="288.4" y1="346.9" x2="288.4" y2="377.3" stroke-width="1"/>
<line x1="181.1" y1="351.8" x2="211" y2="351.8" stroke-width="1"/>
<line x1="257.5" y1="351.8" x2="288.4" y2="351.8" stroke-width="1"/>
<polygon points="181.1,351.8 191.5,349.95 191.5,353.65" fill="#000" stroke="none"/>
<polygon points="288.4,351.8 278,349.95 278,353.65" fill="#000" stroke="none"/>
<text class="dim" x="0" y="0" font-size="16" text-anchor="start" textLength="44.2" lengthAdjust="spacing" transform="translate(212.2 357) scale(1 1)">13.00</text>
<circle cx="271.7" cy="336.2" r="10" stroke-width="1" fill="none"/>
<text class="lab" x="271.7" y="342.31" font-size="18.5" text-anchor="middle" transform="rotate(0 271.7 336.2)">F</text>
<line x1="234.5" y1="360" x2="234.5" y2="409.3" stroke-width="1"/>
<line x1="234.5" y1="417" x2="234.5" y2="426" stroke-width="1"/>
<line x1="234.5" y1="433" x2="234.5" y2="482" stroke-width="1"/>
<line x1="234.5" y1="488" x2="234.5" y2="496" stroke-width="1"/>
<line x1="234.5" y1="503" x2="234.5" y2="545" stroke-width="1"/>
<line x1="234.5" y1="552" x2="234.5" y2="570" stroke-width="1"/>
<path d="M181.1,377.3 L181.1,395.3 Q181.1,398.3 184.1,398.3 L285.4,398.3 Q288.4,398.3 288.4,395.3 L288.4,377.3" stroke-width="1.15" fill="none" />
<line x1="148.1" y1="377.3" x2="288.4" y2="377.3" stroke-width="1.15"/>
<line x1="288.4" y1="398.3" x2="323" y2="398.3" stroke-width="1"/>
<rect x="181.1" y="386.3" width="20.5" height="12" rx="3" stroke-width="1.15" fill="none"/>
<rect x="210.5" y="386.3" width="20.2" height="12" rx="3" stroke-width="1.15" fill="none"/>
<rect x="238.9" y="386.3" width="20.8" height="12" rx="3" stroke-width="1.15" fill="none"/>
<rect x="267.5" y="386.3" width="20.7" height="12" rx="3" stroke-width="1.15" fill="none"/>
<path d="M187.2,386.3 L187.2,383.85 A4.35,4.35 0 0 1 195.9,383.85 L195.9,386.3" stroke-width="1.15" fill="none" />
<path d="M216.2,386.3 L216.2,383.85 A4.35,4.35 0 0 1 224.9,383.85 L224.9,386.3" stroke-width="1.15" fill="none" />
<path d="M245.1,386.3 L245.1,383.9 A4.4,4.4 0 0 1 253.9,383.9 L253.9,386.3" stroke-width="1.15" fill="none" />
<path d="M273.5,386.3 L273.5,384.05 A4.55,4.55 0 0 1 282.6,384.05 L282.6,386.3" stroke-width="1.15" fill="none" />
<line x1="217.4" y1="398.3" x2="217.4" y2="459.4" stroke-width="1.15"/>
<line x1="252.6" y1="398.3" x2="252.6" y2="459.4" stroke-width="1.15"/>
<line x1="180.6" y1="459.4" x2="323" y2="459.4" stroke-width="1.15"/>
<path d="M178.9,506 L178.9,461.2 Q178.9,459.4 180.7,459.4 M291.7,506 L291.7,461.2 Q291.7,459.4 289.9,459.4" stroke-width="1.15" fill="none" />
<line x1="178.9" y1="492.2" x2="291.7" y2="492.2" stroke-width="1.15"/>
<line x1="178.9" y1="508.2" x2="291.7" y2="508.2" stroke-width="1"/>
<path d="M178.9,506 Q178.9,508.2 181,508.2 L184.6,508.2 Q186.7,508.2 186.7,506 L186.7,492.2" stroke-width="1.15" fill="none" />
<path d="M291.7,506 Q291.7,508.2 289.6,508.2 L285.4,508.2 Q283.3,508.2 283.3,506 L283.3,492.2" stroke-width="1.15" fill="none" />
<ellipse cx="202.4" cy="472.5" rx="5.1" ry="7" stroke-width="1.15" fill="none"/>
<ellipse cx="234.6" cy="472.5" rx="5.1" ry="7" stroke-width="1.15" fill="none"/>
<ellipse cx="267.3" cy="472.5" rx="5.1" ry="7" stroke-width="1.15" fill="none"/>
<path d="M208.6,492.2 L208.6,537.2 L212.3,537.2 L212.3,492.2" stroke-width="1" fill="none" />
<path d="M232.6,492.2 L232.6,537.2 L236.6,537.2 L236.6,492.2" stroke-width="1" fill="none" />
<path d="M257.5,492.2 L257.5,537.2 L261.5,537.2 L261.5,492.2" stroke-width="1" fill="none" />
<line x1="148.1" y1="508.2" x2="178.9" y2="508.2" stroke-width="1"/>
<line x1="151.3" y1="377.3" x2="151.3" y2="421.5" stroke-width="1"/>
<line x1="151.3" y1="467" x2="151.3" y2="508.2" stroke-width="1"/>
<polygon points="151.3,377.3 149.45,387.7 153.15,387.7" fill="#000" stroke="none"/>
<polygon points="151.3,508.2 149.45,497.8 153.15,497.8" fill="#000" stroke="none"/>
<text class="dim" x="0" y="0" font-size="16" text-anchor="start" textLength="43" lengthAdjust="spacing" transform="translate(156.5 465.5) rotate(-90) scale(1 1)">16.00</text>
<circle cx="136.5" cy="403.5" r="10" stroke-width="1" fill="none"/>
<text class="lab" x="136.5" y="409.61" font-size="18.5" text-anchor="middle" transform="rotate(-90 136.5 403.5)">G</text>
<line x1="319.5" y1="377.3" x2="319.5" y2="398.3" stroke-width="1"/>
<line x1="319.5" y1="398.3" x2="319.5" y2="410.6" stroke-width="1"/>
<line x1="319.5" y1="447.2" x2="319.5" y2="479" stroke-width="1"/>
<polygon points="319.5,398.3 317.65,387.9 321.35,387.9" fill="#000" stroke="none"/>
<polygon points="319.5,459.4 317.65,469.8 321.35,469.8" fill="#000" stroke="none"/>
<text class="dim" x="0" y="0" font-size="16" text-anchor="start" textLength="34.8" lengthAdjust="spacing" transform="translate(324.7 446.6) rotate(-90) scale(1 1)">7.40</text>
<circle cx="297.4" cy="414.6" r="10" stroke-width="1" fill="none"/>
<text class="lab" x="297.4" y="420.71" font-size="18.5" text-anchor="middle" transform="rotate(-90 297.4 414.6)">H</text>
<line x1="236.6" y1="530.8" x2="282.4" y2="530.8" stroke-width="1"/>
<polygon points="257.5,530.8 247.1,528.95 247.1,532.65" fill="#000" stroke="none"/>
<polygon points="261.5,530.8 271.9,528.95 271.9,532.65" fill="#000" stroke="none"/>
<text class="dim" x="0" y="0" font-size="16" text-anchor="start" textLength="43" lengthAdjust="spacing" transform="translate(283 536.2) scale(1 1)">ø0.50</text>
<circle cx="329.4" cy="510.2" r="10" stroke-width="1" fill="none"/>
<text class="lab" x="329.4" y="516.3" font-size="18.5" text-anchor="middle" transform="rotate(0 329.4 510.2)">I</text>
<line x1="210.5" y1="540" x2="210.5" y2="569" stroke-width="1"/>
<line x1="259.5" y1="540" x2="259.5" y2="569" stroke-width="1"/>
<line x1="198.8" y1="565.3" x2="271" y2="565.3" stroke-width="1"/>
<polygon points="210.5,565.3 220.9,563.45 220.9,567.15" fill="#000" stroke="none"/>
<polygon points="234.5,565.3 224.1,563.45 224.1,567.15" fill="#000" stroke="none"/>
<polygon points="234.5,565.3 244.9,563.45 244.9,567.15" fill="#000" stroke="none"/>
<polygon points="259.5,565.3 249.1,563.45 249.1,567.15" fill="#000" stroke="none"/>
<text class="dim" x="0" y="0" font-size="16" text-anchor="start" textLength="34.2" lengthAdjust="spacing" transform="translate(164.1 570.6) scale(1 1)">3.00</text>
<text class="dim" x="0" y="0" font-size="16" text-anchor="start" textLength="34.2" lengthAdjust="spacing" transform="translate(271.4 570.6) scale(1 1)">3.00</text>
<circle cx="156.3" cy="549.6" r="10" stroke-width="1" fill="none"/>
<text class="lab" x="156.3" y="555.71" font-size="18.5" text-anchor="middle" transform="rotate(0 156.3 549.6)">J</text>
<circle cx="320.1" cy="556" r="10" stroke-width="1" fill="none"/>
<text class="lab" x="320.1" y="562.11" font-size="18.5" text-anchor="middle" transform="rotate(0 320.1 556)">K</text>
<line x1="504.4" y1="347.1" x2="504.4" y2="386.3" stroke-width="1"/>
<line x1="623.6" y1="347.1" x2="623.6" y2="386.8" stroke-width="1"/>
<line x1="504.4" y1="351" x2="540" y2="351" stroke-width="1"/>
<line x1="586.2" y1="351" x2="623.6" y2="351" stroke-width="1"/>
<polygon points="504.4,351 514.8,349.15 514.8,352.85" fill="#000" stroke="none"/>
<polygon points="623.6,351 613.2,349.15 613.2,352.85" fill="#000" stroke="none"/>
<text class="dim" x="0" y="0" font-size="16" text-anchor="start" textLength="43.2" lengthAdjust="spacing" transform="translate(541.2 356.2) scale(1 1)">14.50</text>
<circle cx="603.3" cy="336.8" r="10" stroke-width="1" fill="none"/>
<text class="lab" x="603.3" y="342.91" font-size="18.5" text-anchor="middle" transform="rotate(0 603.3 336.8)">U</text>
<line x1="473.3" y1="386.3" x2="505" y2="386.3" stroke-width="1"/>
<line x1="473.3" y1="398.2" x2="594.8" y2="398.2" stroke-width="1"/>
<line x1="476.5" y1="364.8" x2="476.5" y2="419" stroke-width="1"/>
<polygon points="476.5,386.3 474.65,375.9 478.35,375.9" fill="#000" stroke="none"/>
<polygon points="476.5,398.4 474.65,408.8 478.35,408.8" fill="#000" stroke="none"/>
<text class="dim" x="0" y="0" font-size="16" text-anchor="start" textLength="32.5" lengthAdjust="spacing" transform="translate(482 363.6) rotate(-90) scale(1 1)">1.50</text>
<circle cx="462.3" cy="320.6" r="10" stroke-width="1" fill="none"/>
<text class="lab" x="462.3" y="326.71" font-size="18.5" text-anchor="middle" transform="rotate(-90 462.3 320.6)">V</text>
<path d="M523.6,386.3 L506.4,386.3 Q504.2,386.3 504.2,388.5 L504.2,395.7 Q504.2,398.2 506.4,398.2" stroke-width="1.15" fill="none" />
<path d="M509.4,386.3 L509.4,382.6 Q509.4,379.2 513.5,379.2 Q517.7,379.2 517.7,382.6 L517.7,386.3" stroke-width="1.15" fill="none" />
<path d="M523.6,398.2 L523.6,378.7 Q523.6,376.7 525.6,376.7 L533.8,376.7 Q535.8,376.7 535.9,378.7 L536.8,398.2" stroke-width="1.15" fill="none" />
<path d="M591,398.2 L592.3,378.7 Q592.4,376.7 594.4,376.7 L601.9,376.7 Q603.9,376.7 603.9,378.7 L603.9,386.3 L621.4,386.3 Q623.6,386.3 623.6,388.5 L623.6,395.7 Q623.6,398.2 621.4,398.2 L591,398.2" stroke-width="1.15" fill="none" />
<line x1="536.8" y1="393.4" x2="590.4" y2="393.4" stroke-width="1.15"/>
<line x1="593.2" y1="393.4" x2="664.8" y2="393.4" stroke-width="1"/>
<line x1="504.2" y1="398.2" x2="591" y2="398.2" stroke-width="1.15"/>
<line x1="532.4" y1="398.2" x2="532.4" y2="459.2" stroke-width="1.15"/>
<line x1="594.5" y1="398.2" x2="594.5" y2="459.2" stroke-width="1.15"/>
<line x1="536.5" y1="398.2" x2="536.5" y2="459.2" stroke-width="1" stroke-dasharray="15.3 7.9"/>
<line x1="590.7" y1="398.2" x2="590.7" y2="459.2" stroke-width="1" stroke-dasharray="15.3 7.9"/>
<line x1="563.6" y1="359.4" x2="563.6" y2="409.7" stroke-width="1"/>
<line x1="563.6" y1="416.9" x2="563.6" y2="425.4" stroke-width="1"/>
<line x1="563.6" y1="432.4" x2="563.6" y2="482.7" stroke-width="1"/>
<line x1="563.6" y1="489.9" x2="563.6" y2="498.4" stroke-width="1"/>
<line x1="563.6" y1="505.4" x2="563.6" y2="553" stroke-width="1"/>
<text class="lab" x="493.0" y="418.9" font-size="18.6">A</text>
<text class="lab" x="623.8" y="418.9" font-size="18.6">A</text>
<line x1="498.5" y1="421" x2="498.5" y2="450.4" stroke-width="1"/>
<line x1="628.9" y1="421" x2="628.9" y2="450.4" stroke-width="1"/>
<polygon points="498.5,450.4 496.65,440 500.35,440" fill="#000" stroke="none"/>
<polygon points="628.9,450.4 627.05,440 630.75,440" fill="#000" stroke="none"/>
<line x1="498.5" y1="450.4" x2="628.9" y2="450.4" stroke-width="1"/>
<path d="M536.8,459.2 L492.5,459.2 Q490.9,459.2 490.9,460.8 L490.9,490.8 Q490.9,492.4 492.5,492.4 L526.8,492.4" stroke-width="1.15" fill="none" />
<path d="M490.9,465 L479.6,465 Q478,465 478,466.6 L478,477.6 Q478,479.2 479.6,479.2 L490.9,479.2" stroke-width="1.15" fill="none" />
<path d="M506.8,492.4 L506.8,506 Q506.8,507.9 508.7,507.9 L531.5,507.9 Q533.3,507.9 533.5,506 L536.8,459.2" stroke-width="1.15" fill="none" />
<line x1="526.8" y1="492.4" x2="526.8" y2="507.9" stroke-width="1.15"/>
<path d="M512.6,507.9 L512.6,537.4 L516.5,537.4 L516.5,507.9" stroke-width="1" fill="none" />
<line x1="532.4" y1="459.2" x2="594.5" y2="459.2" stroke-width="1.15"/>
<line x1="536.8" y1="464.5" x2="590.4" y2="464.5" stroke-width="1.15"/>
<path d="M591.4,459.2 L626.4,459.2 Q628.5,459.2 628.5,461.3 L628.5,490.3 Q628.5,492.4 626.4,492.4 L600.6,492.4" stroke-width="1.15" fill="none" />
<path d="M591.4,459.2 L593.2,505.8 Q593.3,508.2 595.5,508.2 L600.6,508.2 L600.6,492.4" stroke-width="1.15" fill="none" />
<line x1="600.4" y1="459.2" x2="600.4" y2="492.4" stroke-width="1" stroke-dasharray="14 3"/>
<line x1="625.7" y1="459.2" x2="625.7" y2="492.4" stroke-width="1" stroke-dasharray="14 3"/>
<path d="M610.7,492.4 L610.7,537.4 L615.3,537.4 L615.3,492.4" stroke-width="1" fill="none" />
<line x1="453.8" y1="459.2" x2="490.9" y2="459.2" stroke-width="1"/>
<line x1="453" y1="492.4" x2="490.9" y2="492.4" stroke-width="1"/>
<line x1="456.8" y1="449" x2="456.8" y2="492.4" stroke-width="1"/>
<polygon points="456.8,459.2 454.95,469.6 458.65,469.6" fill="#000" stroke="none"/>
<polygon points="456.8,492.4 454.95,482 458.65,482" fill="#000" stroke="none"/>
<text class="dim" x="0" y="0" font-size="16" text-anchor="start" textLength="33.5" lengthAdjust="spacing" transform="translate(462.4 447.2) rotate(-90) scale(1 1)">4.10</text>
<circle cx="439" cy="404.3" r="10" stroke-width="1" fill="none"/>
<text class="lab" x="439" y="410.41" font-size="18.5" text-anchor="middle" transform="rotate(-90 439 404.3)">X</text>
<line x1="453" y1="507.9" x2="506.8" y2="507.9" stroke-width="1"/>
<line x1="453" y1="537.4" x2="510.3" y2="537.4" stroke-width="1"/>
<line x1="456.6" y1="507.9" x2="456.6" y2="547.6" stroke-width="1"/>
<polygon points="456.8,507.9 454.95,518.3 458.65,518.3" fill="#000" stroke="none"/>
<polygon points="456.8,537.4 454.95,527 458.65,527" fill="#000" stroke="none"/>
<text class="lab" font-size="17.4" transform="translate(462.4 557.6) rotate(-90)" x="0" y="0">L</text>
<circle cx="436.3" cy="559.9" r="10" stroke-width="1" fill="none"/>
<text class="lab" x="436.3" y="566" font-size="18.5" text-anchor="middle" transform="rotate(-90 436.3 559.9)">Z</text>
<line x1="593.2" y1="464.5" x2="665" y2="464.5" stroke-width="1"/>
<line x1="661.2" y1="393.4" x2="661.2" y2="410.3" stroke-width="1"/>
<line x1="661.2" y1="446.5" x2="661.2" y2="464.5" stroke-width="1"/>
<polygon points="661.2,393.4 659.35,403.8 663.05,403.8" fill="#000" stroke="none"/>
<polygon points="661.2,464.5 659.35,454.1 663.05,454.1" fill="#000" stroke="none"/>
<text class="dim" x="0" y="0" font-size="16" text-anchor="start" textLength="33.5" lengthAdjust="spacing" transform="translate(666.4 445.4) rotate(-90) scale(1 1)">8.70</text>
<circle cx="645.3" cy="405.4" r="10" stroke-width="1" fill="none"/>
<text class="lab" x="645.3" y="411.5" font-size="18.5" text-anchor="middle" transform="rotate(-90 645.3 405.4)">Y</text>
<line x1="628.5" y1="492.4" x2="665" y2="492.4" stroke-width="1"/>
<line x1="600.6" y1="508.2" x2="665" y2="508.2" stroke-width="1"/>
<line x1="661.2" y1="472" x2="661.2" y2="529" stroke-width="1"/>
<polygon points="661.2,492.4 659.35,482 663.05,482" fill="#000" stroke="none"/>
<polygon points="661.2,508.2 659.35,518.6 663.05,518.6" fill="#000" stroke="none"/>
<text class="dim" x="0" y="0" font-size="16" text-anchor="start" textLength="33.5" lengthAdjust="spacing" transform="translate(666.3 563.6) rotate(-90) scale(1 1)">1.90</text>
<circle cx="643.4" cy="571.5" r="10" stroke-width="1" fill="none"/>
<text class="lab" x="643.9" y="577.61" font-size="18.5" text-anchor="middle" textLength="19.5" lengthAdjust="spacingAndGlyphs" transform="rotate(-90 643.4 571.5)">B1</text>
<line x1="514.4" y1="539.4" x2="514.4" y2="568.9" stroke-width="1"/>
<line x1="612.8" y1="539.4" x2="612.8" y2="568.9" stroke-width="1"/>
<line x1="514.4" y1="565.3" x2="540.5" y2="565.3" stroke-width="1"/>
<line x1="587.2" y1="565.3" x2="612.8" y2="565.3" stroke-width="1"/>
<polygon points="514.4,565.3 524.8,563.45 524.8,567.15" fill="#000" stroke="none"/>
<polygon points="612.8,565.3 602.4,563.45 602.4,567.15" fill="#000" stroke="none"/>
<text class="dim" x="0" y="0" font-size="16" text-anchor="start" textLength="44.2" lengthAdjust="spacing" transform="translate(541.8 570.6) scale(1 1)">12.00</text>
<circle cx="533.5" cy="550.2" r="10" stroke-width="1" fill="none"/>
<text class="lab" x="534.5" y="555.98" font-size="17.5" text-anchor="middle" textLength="17.5" lengthAdjust="spacingAndGlyphs" transform="rotate(0 533.5 550.2)">A1</text>
<line x1="178.5" y1="627.7" x2="178.5" y2="674" stroke-width="1"/>
<line x1="291.6" y1="627.7" x2="291.6" y2="674" stroke-width="1"/>
<line x1="178.5" y1="631.6" x2="210.5" y2="631.6" stroke-width="1"/>
<line x1="258" y1="631.6" x2="291.6" y2="631.6" stroke-width="1"/>
<polygon points="178.5,631.6 188.9,629.75 188.9,633.45" fill="#000" stroke="none"/>
<polygon points="291.6,631.6 281.2,629.75 281.2,633.45" fill="#000" stroke="none"/>
<text class="dim" x="0" y="0" font-size="16" text-anchor="start" textLength="45.2" lengthAdjust="spacing" transform="translate(211.6 637) scale(1 1)">13.80</text>
<circle cx="269.8" cy="617.7" r="10" stroke-width="1" fill="none"/>
<text class="lab" x="269.8" y="623.81" font-size="18.5" text-anchor="middle" transform="rotate(0 269.8 617.7)">L</text>
<line x1="234.5" y1="640.9" x2="234.5" y2="683.3" stroke-width="1"/>
<line x1="234.5" y1="689.2" x2="234.5" y2="698.6" stroke-width="1"/>
<line x1="234.5" y1="702" x2="234.5" y2="735" stroke-width="1"/>
<line x1="234.5" y1="736.8" x2="234.5" y2="745.6" stroke-width="1"/>
<line x1="234.5" y1="751" x2="234.5" y2="768.4" stroke-width="1"/>
<line x1="234.5" y1="775.7" x2="234.5" y2="818.6" stroke-width="1"/>
<path d="M197,668.4 L197,657.7 Q197,656.1 198.6,656.1 L205.8,656.1 Q207.4,656.1 207.4,657.7 L207.4,668.4" stroke-width="1.15" fill="none" />
<path d="M229.4,668.4 L229.4,657.7 Q229.4,656.1 231,656.1 L238.2,656.1 Q239.8,656.1 239.8,657.7 L239.8,668.4" stroke-width="1.15" fill="none" />
<path d="M262.3,668.4 L262.3,657.7 Q262.3,656.1 263.9,656.1 L271.2,656.1 Q272.8,656.1 272.8,657.7 L272.8,668.4" stroke-width="1.15" fill="none" />
<path d="M178.5,715.5 L178.5,675 Q178.5,668.4 185.1,668.4 L285.0,668.4 Q291.6,668.4 291.6,675 L291.6,715.5 Z" stroke-width="1.15" fill="none" />
<line x1="178.5" y1="712.2" x2="291.6" y2="712.2" stroke-width="1.15"/>
<path d="M178.5,684.3 Q186.4,683.3 186.4,689 L186.4,704.3 L283.6,704.3 L283.6,689 Q283.6,683.3 291.6,684.3" stroke-width="1.15" fill="none" />
<circle cx="210.2" cy="692.2" r="2.1" stroke-width="1" fill="none"/>
<circle cx="234.5" cy="692.2" r="2.1" stroke-width="1" fill="none"/>
<circle cx="259.3" cy="692.2" r="2.1" stroke-width="1" fill="none"/>
<line x1="148.6" y1="656.1" x2="207.4" y2="656.1" stroke-width="1"/>
<line x1="148.6" y1="668.4" x2="185" y2="668.4" stroke-width="1"/>
<line x1="152.5" y1="635.2" x2="152.5" y2="688" stroke-width="1"/>
<polygon points="152.5,656.1 150.65,645.7 154.35,645.7" fill="#000" stroke="none"/>
<polygon points="152.5,668.4 150.65,678.8 154.35,678.8" fill="#000" stroke="none"/>
<text class="dim" x="0" y="0" font-size="16" text-anchor="start" textLength="33.5" lengthAdjust="spacing" transform="translate(157.8 724) rotate(-90) scale(1 1)">1.50</text>
<circle cx="136.6" cy="733.4" r="10" stroke-width="1" fill="none"/>
<text class="lab" x="136.6" y="739.5" font-size="18.5" text-anchor="middle" transform="rotate(-90 136.6 733.4)">M</text>
<line x1="194.5" y1="715.5" x2="194.5" y2="768.4" stroke-width="1.15"/>
<line x1="221.3" y1="715.5" x2="221.3" y2="768.4" stroke-width="1.15"/>
<line x1="248.3" y1="715.5" x2="248.3" y2="768.4" stroke-width="1.15"/>
<line x1="274.4" y1="715.5" x2="274.4" y2="768.4" stroke-width="1.15"/>
<line x1="172.7" y1="741.2" x2="222" y2="741.2" stroke-width="1"/>
<line x1="228" y1="741.2" x2="241" y2="741.2" stroke-width="1"/>
<line x1="247" y1="741.2" x2="296" y2="741.2" stroke-width="1"/>
<line x1="299" y1="741.2" x2="322.8" y2="741.2" stroke-width="1"/>
<line x1="182.6" y1="768.4" x2="287.5" y2="768.4" stroke-width="1.15"/>
<line x1="182.6" y1="771.4" x2="287.5" y2="771.4" stroke-width="1.15"/>
<line x1="182.6" y1="778" x2="287.5" y2="778" stroke-width="1.15"/>
<line x1="182.6" y1="768.4" x2="182.6" y2="800.3" stroke-width="1.15"/>
<line x1="287.5" y1="768.4" x2="287.5" y2="800.3" stroke-width="1.15"/>
<path d="M182.6,800 Q182.6,806.3 189,806.3 L200.3,806.3 L200.3,778" stroke-width="1.15" fill="none" />
<path d="M287.5,800 Q287.5,806.3 281,806.3 L269.2,806.3 L269.2,778" stroke-width="1.15" fill="none" />
<path d="M206.9,778 L206.9,804.5 Q206.9,806.3 208.7,806.3 Q210.45,806.3 211.65,804 Q213.85,802.2 216.05,804 Q217.25,806.3 219,806.3 Q220.8,806.3 220.8,804.5 L220.8,778" stroke-width="1.15" fill="none" />
<path d="M227.4,778 L227.4,804.5 Q227.4,806.3 229.2,806.3 Q231.1,806.3 232.3,804 Q234.5,802.2 236.7,804 Q237.9,806.3 239.8,806.3 Q241.6,806.3 241.6,804.5 L241.6,778" stroke-width="1.15" fill="none" />
<path d="M248.7,778 L248.7,804.5 Q248.7,806.3 250.5,806.3 Q252.25,806.3 253.45,804 Q255.65,802.2 257.85,804 Q259.05,806.3 260.8,806.3 Q262.6,806.3 262.6,804.5 L262.6,778" stroke-width="1.15" fill="none" />
<circle cx="193.8" cy="790.7" r="2" stroke-width="1" fill="none"/>
<circle cx="214.3" cy="790.7" r="2" stroke-width="1" fill="none"/>
<circle cx="234.5" cy="790.7" r="2" stroke-width="1" fill="none"/>
<circle cx="255.2" cy="790.7" r="2" stroke-width="1" fill="none"/>
<circle cx="276.1" cy="790.7" r="2" stroke-width="1" fill="none"/>
<line x1="278" y1="790.4" x2="322.8" y2="790.4" stroke-width="1"/>
<line x1="319.8" y1="720.5" x2="319.8" y2="747.6" stroke-width="1"/>
<line x1="319.8" y1="784.4" x2="319.8" y2="811.4" stroke-width="1"/>
<polygon points="319.8,741.2 317.95,730.8 321.65,730.8" fill="#000" stroke="none"/>
<polygon points="319.8,790.4 317.95,800.8 321.65,800.8" fill="#000" stroke="none"/>
<text class="dim" x="0" y="0" font-size="16" text-anchor="start" textLength="34.5" lengthAdjust="spacing" transform="translate(325 783.3) rotate(-90) scale(1 1)">6.00</text>
<circle cx="300.3" cy="756.6" r="10" stroke-width="1" fill="none"/>
<text class="lab" x="300.3" y="762.71" font-size="18.5" text-anchor="middle" transform="rotate(-90 300.3 756.6)">N</text>
<circle cx="303.1" cy="820.4" r="10" stroke-width="1" fill="none"/>
<text class="lab" x="303.1" y="826.5" font-size="18.5" text-anchor="middle" transform="rotate(0 303.1 820.4)">O</text>
<line x1="193.4" y1="792.5" x2="193.4" y2="840" stroke-width="1"/>
<line x1="214.3" y1="792.5" x2="214.3" y2="840" stroke-width="1"/>
<line x1="172.7" y1="836.2" x2="193.4" y2="836.2" stroke-width="1"/>
<line x1="214.3" y1="836.2" x2="235.4" y2="836.2" stroke-width="1"/>
<polygon points="193.4,836.2 183,834.35 183,838.05" fill="#000" stroke="none"/>
<polygon points="214.3,836.2 224.7,834.35 224.7,838.05" fill="#000" stroke="none"/>
<text class="dim" x="0" y="0" font-size="16" text-anchor="start" textLength="58.3" lengthAdjust="spacing" transform="translate(236.5 841.8) scale(1 1)">4−2.50</text>
<circle cx="203.2" cy="848.2" r="10" stroke-width="1" fill="none"/>
<text class="lab" x="203.2" y="854.31" font-size="18.5" text-anchor="middle" transform="rotate(0 203.2 848.2)">P</text>
<line x1="182.6" y1="806" x2="182.6" y2="864.8" stroke-width="1"/>
<line x1="287.5" y1="800" x2="287.5" y2="864.8" stroke-width="1"/>
<line x1="182.6" y1="860.7" x2="211.5" y2="860.7" stroke-width="1"/>
<line x1="258.5" y1="860.7" x2="287.5" y2="860.7" stroke-width="1"/>
<polygon points="182.6,860.7 193,858.85 193,862.55" fill="#000" stroke="none"/>
<polygon points="287.5,860.7 277.1,858.85 277.1,862.55" fill="#000" stroke="none"/>
<text class="dim" x="0" y="0" font-size="16" text-anchor="start" textLength="45" lengthAdjust="spacing" transform="translate(212.4 866.2) scale(1 1)">12.80</text>
<path d="M603.4,753.9 L611.7,755 L614.5,790.3 L578.4,770.2 Z" stroke-width="1.05" fill="#fff" />
<path d="M591.2,777.4 L591.2,784.7 Q591.2,786.2 593.15,786.2 Q595.1,786.2 595.1,784.7 L595.1,779.6" stroke-width="1.05" fill="#fff" />
<path d="M604.4,784.8 L604.4,792.6 Q604.4,794.1 606.35,794.1 Q608.3,794.1 608.3,792.6 L608.3,787" stroke-width="1.05" fill="#fff" />
<path d="M569.4,770.2 L604.3,750 L604.3,753.9 L574.3,771.6 Z" stroke-width="1.05" fill="#fff" />
<path d="M569.4,770.5 L540,753 L591,712 L625.6,733.5 L604.4,750.3 Z" stroke-width="0" fill="#fff" />
<path d="M569.4,770.2 L604.3,750" stroke-width="1.05" fill="none" />
<path d="M591.5,714.5 L593.3,714.8 L594.5,715.6 L594.5,720.7" stroke-width="1.05" fill="none" />
<path d="M592.2,716.2 L592.2,722" stroke-width="1.05" fill="none" />
<path d="M592,722.1 L599.1,718.3 Q600.4,718.6 600.5,720 Q600.6,721.9 602.6,722.1 Q603.9,722.2 604.6,721.6 Q606.2,720.8 607.2,722.6 Q607.7,723.4 607.7,724.4 L607.7,728.2 L594.5,736.2 L592,735" stroke-width="1.05" fill="none" />
<path d="M606.6,723.9 L592,732.2" stroke-width="1.05" fill="none" />
<path d="M607.7,728.2 L612.2,726.1 Q613.6,726.4 613.8,727.8 Q614,729.9 616.2,730.2 Q617.4,730.3 618.2,729.5 Q620,728.9 621,730.8 Q621.5,731.6 621.5,732.6 L621.5,735.7" stroke-width="1.05" fill="none" />
<path d="M620.3,731.7 L602.4,741.5 L607.4,744.6 L625.3,733.5" stroke-width="1.05" fill="none" />
<path d="M604.4,750.3 L612.2,754.8 L634.4,742 L634.4,741.4 L633,738 L625.6,733.5 L620.7,736.2 Z" stroke-width="0" fill="#fff" />
<path d="M604.3,750.2 L612.2,754.8 L634.4,742.0 M620.7,736.2 L625.6,733.5 L632.6,737.6 Q634.4,738.8 634.4,741.6" stroke-width="1.05" fill="none" />
<path d="M618.25,776 L618.25,801.4 L621.44,801.4 L621.44,775" stroke-width="1.05" fill="#fff" />
<path d="M612.2,754.8 L634.4,742 L634.4,765.3 L633.2,767.8 L631.2,768.9 L621.4,775 L621.4,786.4 L614.5,790.3 Z" stroke-width="1.05" fill="#fff" />
<path d="M612.2,754.8 L614.5,790.3" stroke-width="1.05" fill="none" />
<path d="M559.1,651.7 L565.2,647.8 L635,687.9 L621.8,694.4 L621.8,687.9 Z" stroke-width="1.05" fill="#fff" />
<path d="M545.1,652.9 L552.7,648.2 L621.8,687.9 L614.2,692.4 Z" stroke-width="1.05" fill="#fff" />
<path d="M545.1,652.9 L614.2,692.4 L613.5,709.1 L544,669.1 Z" stroke-width="1.05" fill="#fff" />
<path d="M614.2,692.4 L621.8,687.9 L621.8,694.4 L635,687.9 L635,696.9 L613.5,709.1 Z" stroke-width="1.05" fill="#fff" />
<path d="M527.6,685.1 L552.7,670.3 L604.3,700.4 L604.5,704.4 L578.4,719.4 L578.4,714.5 L560,704 Z" stroke-width="0" fill="#fff" />
<path d="M527.6,685.1 L552.7,670.3 L604.3,700.4 L604.5,704.4 L578.4,719.4" stroke-width="1.05" fill="none" />
<path d="M604.3,700.4 L578.4,714.5" stroke-width="1.05" fill="none" />
<path d="M545.3,695 L569.4,680.3" stroke-width="1.05" fill="none" />
<path d="M569.4,680.3 L569.6,699.6" stroke-width="1.05" fill="none" />
<path d="M562.6,704.6 L587.6,690.2" stroke-width="1.05" fill="none" />
<path d="M548.2,671.8 L544,669.1" stroke-width="1.05" fill="none" />
<path d="M480.4,751.5 L480.4,749.4 L506.8,733.8 L517.9,740.3 L531,732.7 L560,745 L569.4,770.5 L581.2,777 L555.4,790.4 L545.6,790.3 Z" stroke-width="0" fill="#fff" />
<path d="M480.4,754 Q480.2,750 482,748.5 L506.8,733.8 L517.9,740.3 L531,732.7" stroke-width="1.05" fill="none" />
<path d="M569.4,770.5 L581.2,777.1" stroke-width="1.05" fill="none" />
<path d="M531,712 L531,749.6 L548.4,759.9 Q552.5,762.6 556.6,760.1 L591.3,741.2 L591.3,713 L578.4,720.6 L560,731 Z" stroke-width="0" fill="#fff" />
<path d="M531,712 L531,749.6 L548.4,759.9 Q552.5,762.6 556.6,760.1 L591.3,741.2 L591.3,712" stroke-width="1.05" fill="none" />
<path d="M549.9,730 L549.9,760.7" stroke-width="1.05" fill="none" />
<path d="M555.6,735 L555.6,760.6" stroke-width="1.05" fill="none" />
<path d="M570.35,718.75 L576.9,714.2 L577.4,729.3 L556.7,742 L557.2,732.4 L569.85,724.8 Z" stroke-width="1.05" fill="#fff" />
<path d="M500.4,678.6 L508.3,673.9 L576.9,714.2 L570.35,718.75 Z" stroke-width="1.05" fill="#fff" />
<path d="M500.4,678.6 L570.35,718.75 L570.35,725.8 L500.4,685.7 Z" stroke-width="1.05" fill="#fff" />
<path d="M501.02,699.87 L513.63,692.81 L513.63,702.39 L501.02,709.45 Z" stroke-width="1.05" fill="#fff" />
<path d="M487.6,692.3 L500.21,685.24 L513.63,692.81 L501.02,699.87 Z" stroke-width="1.05" fill="#fff" />
<path d="M487.6,692.3 L501.02,699.87 L501.02,709.45 L487.6,701.88 Z" stroke-width="1.05" fill="#fff" />
<path d="M496.7,688.2 L496.7,692.5 A3.8,2.2 0 0 0 504.3,692.5 L504.3,688.2" stroke-width="1.05" fill="#fff" />
<ellipse cx="500.5" cy="688.2" rx="3.8" ry="2.2" stroke-width="1.05" fill="#fff"/>
<path d="M519.74,710.85 L532.35,703.79 L532.35,713.37 L519.74,720.43 Z" stroke-width="1.05" fill="#fff" />
<path d="M506.32,703.28 L518.93,696.22 L532.35,703.79 L519.74,710.85 Z" stroke-width="1.05" fill="#fff" />
<path d="M506.32,703.28 L519.74,710.85 L519.74,720.43 L506.32,712.86 Z" stroke-width="1.05" fill="#fff" />
<path d="M515.42,699.18 L515.42,703.48 A3.8,2.2 0 0 0 523.02,703.48 L523.02,699.18" stroke-width="1.05" fill="#fff" />
<ellipse cx="519.22" cy="699.18" rx="3.8" ry="2.2" stroke-width="1.05" fill="#fff"/>
<path d="M538.46,721.83 L551.07,714.77 L551.07,724.35 L538.46,731.41 Z" stroke-width="1.05" fill="#fff" />
<path d="M525.04,714.26 L537.65,707.2 L551.07,714.77 L538.46,721.83 Z" stroke-width="1.05" fill="#fff" />
<path d="M525.04,714.26 L538.46,721.83 L538.46,731.41 L525.04,723.84 Z" stroke-width="1.05" fill="#fff" />
<path d="M534.14,710.16 L534.14,714.46 A3.8,2.2 0 0 0 541.74,714.46 L541.74,710.16" stroke-width="1.05" fill="#fff" />
<ellipse cx="537.94" cy="710.16" rx="3.8" ry="2.2" stroke-width="1.05" fill="#fff"/>
<path d="M543.76,725.24 L556.37,718.18 L569.79,725.75 L557.18,732.81 Z" stroke-width="1.05" fill="#fff" />
<path d="M543.76,725.24 L557.18,732.81 L557.18,742.39 L543.76,734.82 Z" stroke-width="1.05" fill="#fff" />
<path d="M552.86,721.14 L552.86,725.44 A3.8,2.2 0 0 0 560.46,725.44 L560.46,721.14" stroke-width="1.05" fill="#fff" />
<ellipse cx="556.66" cy="721.14" rx="3.8" ry="2.2" stroke-width="1.05" fill="#fff"/>
<path d="M480.4,752.9 L543.6,789.2 Q550.5,792.2 556.5,789.7 L581.2,776.6 L581.2,771.6 L579.1,814.3 L561.1,824.3 L555.5,820.9 L555.5,816.4 L552.6,817.6 Q549,818.2 545.6,815 L482,778.2 Q480.4,777 480.4,775.4 Z" stroke-width="1.05" fill="#fff" />
<path d="M545.6,790.5 L545.6,815.2" stroke-width="1.05" fill="none" />
<path d="M555.5,790.9 L555.5,816.4" stroke-width="1.05" fill="none" />
<path d="M555.5,816.3 L561.1,813.2 L561.1,824.3" stroke-width="1.05" fill="none" />
<path d="M578.4,770.4 L578.4,775.2" stroke-width="1.05" fill="none" />
<path d="M511.3,797 L511.3,812.4 Q511.3,813.9 513.2,813.9 Q515.1,813.9 515.1,812.4 L515.1,799.2" stroke-width="1.05" fill="#fff" />
<path d="M527.3,806 L527.3,821.4 Q527.3,822.9 529.15,822.9 Q531,822.9 531,821.4 L531,808.2" stroke-width="1.05" fill="#fff" />
<path d="M543.5,815 L543.5,830.9 Q543.5,832.4 545.4,832.4 Q547.3,832.4 547.3,830.9 L547.3,817.2" stroke-width="1.05" fill="#fff" />
<g transform="translate(484.3 773.7) scale(0.1387)" stroke-width="7.57">
<path d="M-6,-43 L47,-70 C70,-72 86,-50 84,-8 Q82,3 77,6 L15,40 Z" fill="#fff"/>
<ellipse cx="0" cy="0" rx="21" ry="43" transform="rotate(-8)" fill="#fff"/>
<path d="M21,3 L83,-27" fill="none"/>
</g>
<g transform="translate(505.4 786.9) scale(0.1387)" stroke-width="7.57">
<path d="M-6,-43 L47,-70 C70,-72 86,-50 84,-8 Q82,3 77,6 L15,40 Z" fill="#fff"/>
<ellipse cx="0" cy="0" rx="21" ry="43" transform="rotate(-8)" fill="#fff"/>
<path d="M21,3 L83,-27" fill="none"/>
</g>
<g transform="translate(526.9 798.7) scale(0.1387)" stroke-width="7.57">
<path d="M-6,-43 L47,-70 C70,-72 86,-50 84,-8 Q82,3 77,6 L15,40 Z" fill="#fff"/>
<ellipse cx="0" cy="0" rx="21" ry="43" transform="rotate(-8)" fill="#fff"/>
<path d="M21,3 L83,-27" fill="none"/>
</g>
</g></svg>
</body></html>
